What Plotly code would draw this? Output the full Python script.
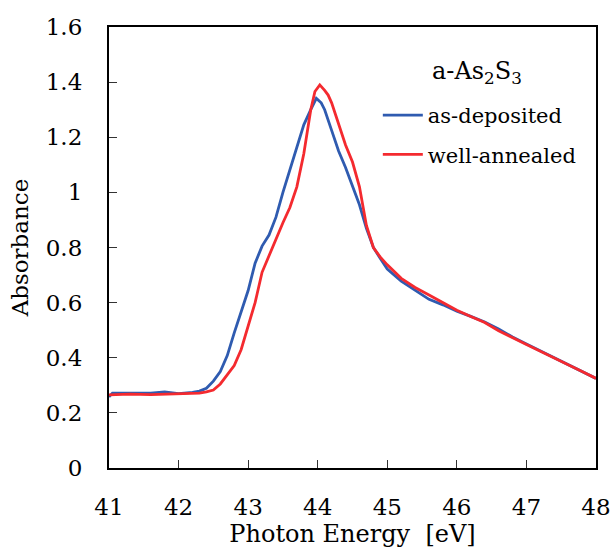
import plotly.graph_objects as go

# Photon energy (eV) and absorbance for the as-deposited film
energy_dep = [41.0, 41.05, 41.3, 41.6, 41.8, 42.0, 42.2, 42.3, 42.4, 42.5, 42.6, 42.7,
              42.8, 42.9, 43.0, 43.1, 43.2, 43.3, 43.4, 43.5, 43.6, 43.7, 43.8, 43.9,
              43.98, 44.05, 44.1, 44.2, 44.3, 44.4, 44.5, 44.6, 44.7, 44.8, 44.9, 45.0,
              45.2, 45.4, 45.6, 45.8, 46.0, 46.2, 46.4, 46.6, 46.8, 47.0, 47.2, 47.4,
              47.6, 47.8, 48.0]
abs_dep = [0.258, 0.272, 0.272, 0.272, 0.276, 0.270, 0.274, 0.279, 0.289, 0.315, 0.350, 0.408,
           0.490, 0.566, 0.644, 0.743, 0.805, 0.845, 0.910, 1.000, 1.080, 1.165, 1.245, 1.300,
           1.341, 1.325, 1.300, 1.225, 1.150, 1.090, 1.025, 0.955, 0.870, 0.800, 0.760, 0.722,
           0.678, 0.645, 0.612, 0.592, 0.569, 0.550, 0.530, 0.504, 0.475, 0.450, 0.425, 0.400,
           0.375, 0.350, 0.325]

# Photon energy (eV) and absorbance for the well-annealed film
energy_ann = [41.0, 41.3, 41.6, 41.8, 42.0, 42.2, 42.3, 42.4, 42.5, 42.6, 42.7, 42.8,
              42.9, 43.0, 43.1, 43.2, 43.3, 43.4, 43.5, 43.6, 43.7, 43.8, 43.9, 43.96,
              44.03, 44.1, 44.15, 44.2, 44.3, 44.4, 44.5, 44.6, 44.7, 44.8, 44.9, 45.0,
              45.2, 45.4, 45.6, 45.8, 46.0, 46.2, 46.4, 46.6, 46.8, 47.0, 47.2, 47.4,
              47.6, 47.8, 48.0]
abs_ann = [0.265, 0.268, 0.266, 0.268, 0.268, 0.270, 0.272, 0.276, 0.283, 0.305, 0.338, 0.372,
           0.430, 0.515, 0.600, 0.710, 0.770, 0.835, 0.890, 0.945, 1.020, 1.140, 1.300, 1.366,
           1.390, 1.370, 1.353, 1.325, 1.250, 1.172, 1.110, 1.020, 0.880, 0.800, 0.765, 0.737,
           0.688, 0.655, 0.628, 0.600, 0.572, 0.550, 0.528, 0.498, 0.472, 0.448, 0.424, 0.400,
           0.376, 0.350, 0.325]

x_ticks = [41, 42, 43, 44, 45, 46, 47, 48]
y_ticks = [0, 0.2, 0.4, 0.6, 0.8, 1, 1.2, 1.4, 1.6]

FONT = "DejaVu Serif"

fig = go.Figure()
fig.add_trace(go.Scatter(x=energy_dep, y=abs_dep, mode="lines", name="as-deposited",
                         legendgroup="dep",
                         line=dict(color="#2F5BB0", width=2.8)))
fig.add_trace(go.Scatter(x=energy_ann, y=abs_ann, mode="lines", name="well-annealed",
                         legendgroup="ann",
                         line=dict(color="#F42A2F", width=2.8)))

axis_common = dict(
    showline=True, linecolor="black", linewidth=2.2, mirror=True,
    ticks="inside", ticklen=8, tickwidth=1.4, tickcolor="#333333",
    showgrid=False, zeroline=False,
    tickfont=dict(family=FONT, size=23, color="black"),
    automargin=False,
)

fig.update_xaxes(range=[41, 48], tickvals=x_ticks,
                 title=dict(text="Photon Energy  [eV]", standoff=0,
                            font=dict(family=FONT, size=24, color="black")),
                 ticklabelstandoff=17, ticklabeloverflow="allow", **axis_common)
fig.update_yaxes(range=[0, 1.6], tickvals=y_ticks,
                 title=dict(text="Absorbance", standoff=11,
                            font=dict(family=FONT, size=23, color="black")),
                 ticklabelstandoff=20, **axis_common)

# Sample name shown above the legend entries
fig.add_annotation(
    text="a-As<sub>2</sub>S<sub>3</sub>", xref="paper", yref="paper",
    x=0.756, y=0.896, xanchor="center", yanchor="middle", showarrow=False,
    font=dict(family=FONT, size=24, color="black"),
)

fig.update_layout(
    width=611, height=551,
    margin=dict(l=109, r=15, t=27, b=83),
    plot_bgcolor="white", paper_bgcolor="white",
    font=dict(family=FONT, color="black"),
    showlegend=True,
    legend=dict(
        x=0.552, y=0.846, xanchor="left", yanchor="top",
        bgcolor="rgba(0,0,0,0)", borderwidth=0,
        font=dict(family=FONT, size=21, color="black"),
        tracegroupgap=9,
        itemwidth=40,
    ),
)

fig.write_html("out.html")
